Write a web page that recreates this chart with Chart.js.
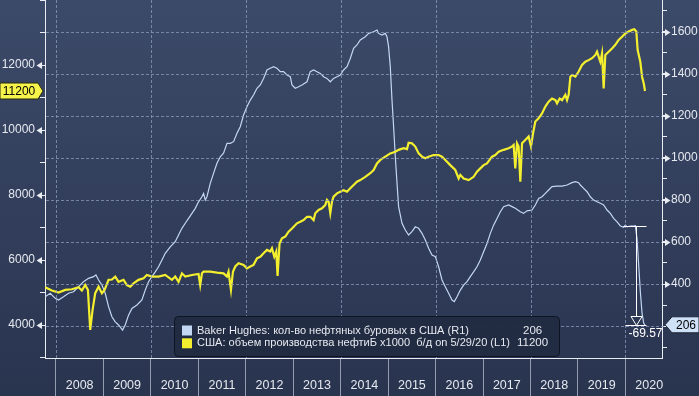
<!DOCTYPE html>
<html><head><meta charset="utf-8">
<script src="https://cdn.jsdelivr.net/npm/chart.js@4.4.1/dist/chart.umd.min.js"></script>
<style>html,body{margin:0;padding:0;background:#2f3b57;}canvas{display:block;}</style>
</head><body>
<canvas id="c" width="699" height="396"></canvas>
<script>
// ---------- DATA ----------
const seriesLabels = ['Baker Hughes: кол-во нефтяных буровых в США (R1)', 'США: объем производства нефтиБ x1000  б/д on 5/29/20 (L1)'];
const lastValueLabels = ['206', '11200'];
const yearLabels = [2008, 2009, 2010, 2011, 2012, 2013, 2014, 2015, 2016, 2017, 2018, 2019, 2020];
const leftTickValues = [4000, 6000, 8000, 10000, 12000];
const leftMinorTicks = [3000, 5000, 7000, 9000, 11000, 13000, 14000];
const rightTickValues = [400, 600, 800, 1000, 1200, 1400, 1600];
const rightMinorTicks = [100, 200, 300, 500, 700, 900, 1100, 1300, 1500, 1700];
const rightGridValues = [200, 400, 600, 800, 1000, 1200, 1400, 1600];
const gridYears = [2008, 2010, 2012, 2014, 2016, 2018, 2020];

// US crude production, thousand b/d (left axis) — date as decimal year
const prodDates = [2007.775,2007.916,2008.055,2008.196,2008.337,2008.477,2008.547,2008.617,2008.674,2008.723,2008.772,2008.828,2008.899,2008.969,2009.025,2009.109,2009.180,2009.250,2009.320,2009.425,2009.496,2009.566,2009.636,2009.740,2009.846,2009.917,2010.023,2010.162,2010.303,2010.445,2010.514,2010.584,2010.655,2010.725,2010.866,2011.005,2011.040,2011.077,2011.111,2011.252,2011.393,2011.532,2011.604,2011.637,2011.688,2011.730,2011.779,2011.848,2011.954,2012.025,2012.095,2012.164,2012.236,2012.306,2012.375,2012.447,2012.516,2012.552,2012.601,2012.643,2012.670,2012.712,2012.763,2012.832,2012.902,2012.974,2013.079,2013.149,2013.218,2013.290,2013.359,2013.429,2013.465,2013.534,2013.606,2013.675,2013.711,2013.745,2013.781,2013.817,2013.850,2013.922,2013.992,2014.061,2014.133,2014.202,2014.272,2014.343,2014.413,2014.518,2014.624,2014.694,2014.765,2014.835,2014.940,2015.045,2015.151,2015.220,2015.326,2015.397,2015.431,2015.502,2015.572,2015.642,2015.713,2015.783,2015.852,2015.958,2016.063,2016.135,2016.204,2016.309,2016.415,2016.485,2016.521,2016.590,2016.696,2016.801,2016.872,2016.942,2017.012,2017.083,2017.189,2017.258,2017.328,2017.433,2017.538,2017.610,2017.644,2017.679,2017.715,2017.749,2017.785,2017.821,2017.890,2017.960,2018.010,2018.053,2018.101,2018.171,2018.242,2018.312,2018.381,2018.453,2018.523,2018.558,2018.613,2018.664,2018.733,2018.769,2018.803,2018.839,2018.875,2018.945,2019.014,2019.085,2019.155,2019.224,2019.296,2019.366,2019.401,2019.435,2019.471,2019.507,2019.541,2019.576,2019.646,2019.717,2019.787,2019.856,2019.928,2019.998,2020.067,2020.139,2020.187,2020.229,2020.257,2020.313,2020.350,2020.385,2020.412];
const prodValues = [5160,5060,5000,5080,5100,5160,5060,5230,5080,3850,4460,4980,5180,4980,5080,5390,5400,5490,5330,5390,5230,5180,5280,5390,5440,5540,5490,5490,5540,5390,5490,5330,5590,5490,5540,5570,5230,5590,5640,5640,5610,5590,5490,5640,5080,5640,5800,5900,5850,5740,5800,5850,6050,6100,6210,6310,6260,6360,6100,6260,5510,6510,6670,6720,6870,6970,7130,7180,7230,7330,7330,7230,7440,7540,7590,7690,7850,7800,7440,7800,7950,8050,8100,8150,8100,8210,8310,8410,8460,8560,8670,8770,8970,9080,9180,9280,9330,9390,9440,9410,9610,9590,9490,9280,9180,9130,9180,9230,9230,9180,9080,8920,8770,8510,8620,8510,8460,8560,8720,8820,8920,8970,9180,9230,9330,9390,9440,9490,9540,8820,9590,9490,8410,9590,9690,9800,9490,9900,10260,10360,10510,10720,10870,10970,10920,10820,10970,10920,11080,10920,11080,11640,11690,11640,11800,12000,12100,12150,12210,12310,12410,12260,12100,12360,11280,12310,12410,12510,12620,12770,12870,12970,13030,13080,13100,13030,12460,12100,11640,11440,11200];

// Baker Hughes US oil rigs (right axis)
const rigDates = [2007.775,2007.880,2007.985,2008.055,2008.160,2008.266,2008.371,2008.477,2008.582,2008.687,2008.792,2008.843,2008.899,2008.969,2009.039,2009.109,2009.180,2009.250,2009.320,2009.404,2009.460,2009.530,2009.602,2009.707,2009.812,2009.882,2009.952,2010.023,2010.093,2010.162,2010.234,2010.303,2010.409,2010.514,2010.584,2010.655,2010.725,2010.795,2010.866,2010.936,2011.005,2011.077,2011.111,2011.147,2011.182,2011.252,2011.321,2011.393,2011.463,2011.532,2011.604,2011.673,2011.743,2011.815,2011.884,2011.954,2012.025,2012.095,2012.164,2012.236,2012.306,2012.375,2012.447,2012.516,2012.586,2012.657,2012.727,2012.797,2012.868,2012.938,2012.974,2013.043,2013.113,2013.184,2013.290,2013.359,2013.429,2013.501,2013.570,2013.640,2013.711,2013.781,2013.850,2013.922,2013.992,2014.061,2014.133,2014.202,2014.272,2014.343,2014.413,2014.518,2014.588,2014.694,2014.765,2014.799,2014.870,2014.940,2014.976,2015.009,2015.045,2015.081,2015.115,2015.151,2015.187,2015.220,2015.292,2015.362,2015.431,2015.502,2015.572,2015.642,2015.713,2015.783,2015.852,2015.924,2015.994,2016.063,2016.135,2016.204,2016.274,2016.346,2016.394,2016.451,2016.521,2016.590,2016.662,2016.731,2016.801,2016.872,2016.942,2017.012,2017.083,2017.153,2017.222,2017.294,2017.364,2017.433,2017.538,2017.610,2017.679,2017.785,2017.854,2017.926,2018.031,2018.101,2018.171,2018.242,2018.312,2018.381,2018.453,2018.558,2018.664,2018.769,2018.875,2018.945,2019.014,2019.050,2019.119,2019.191,2019.260,2019.330,2019.401,2019.471,2019.541,2019.612,2019.682,2019.751,2019.823,2019.893,2019.963,2019.998,2020.034,2020.104,2020.174,2020.210,2020.246,2020.281,2020.316,2020.350,2020.385,2020.412];
const rigCounts = [339,356,332,324,339,356,363,387,411,427,435,443,419,395,356,292,244,220,205,181,205,252,284,300,324,371,411,435,458,482,514,546,577,601,633,665,689,712,736,760,791,815,831,799,815,879,926,974,1005,1022,1069,1069,1077,1117,1148,1204,1243,1275,1299,1331,1347,1378,1418,1426,1434,1426,1410,1410,1394,1386,1347,1331,1338,1347,1362,1410,1418,1410,1402,1386,1378,1362,1378,1386,1394,1418,1434,1473,1521,1537,1561,1576,1592,1600,1608,1592,1584,1592,1576,1529,1434,1275,1148,1005,879,768,689,657,633,649,672,665,641,609,570,538,530,482,419,387,356,324,316,339,371,395,411,435,458,482,514,553,593,641,680,712,744,768,776,768,760,744,736,748,752,776,807,815,831,847,863,866,866,871,882,887,882,871,855,839,815,799,791,784,776,752,736,712,696,676,670,680,672,676,676,677,609,482,356,260,213,206];

// change annotation
const annoDate = 2020.23;
const annoFrom = 677;
const annoTo = 206;
const annoLabel = '-69.57';

// ---------- STYLE ----------
const xMin = 2007.77, xMax = 2020.77;
const rigColor = '#c3d7f3';
const prodColor = '#f3ef2e';
const axisColor = '#e9ecf1';
const textColor = '#e6e9ef';
const gridColor = 'rgba(140,156,190,0.75)';
const sepColor = '#949db0';
const FONT = 'Liberation Sans, Arial, sans-serif';

const bgPlugin = {
  id: 'bg',
  beforeDraw(chart) {
    const {ctx, width, height} = chart;
    const g = ctx.createLinearGradient(0, 0, 0, height);
    g.addColorStop(0, '#3c4a69');
    g.addColorStop(1, '#29344f');
    ctx.save();
    ctx.fillStyle = g;
    ctx.fillRect(0, 0, width, height);
    ctx.restore();
  }
};

const overlayPlugin = {
  id: 'overlay',
  afterDraw(chart) {
    const {ctx, chartArea: ca} = chart;
    const x = chart.scales.x, yL = chart.scales.yL, yR = chart.scales.yR;
    ctx.save();

    // dashed grid, positioned through the chart's own scales
    ctx.fillStyle = gridColor;
    gridYears.forEach(yr => {
      const px = Math.round(x.getPixelForValue(yr));
      for (let y = Math.ceil(ca.top); y < ca.bottom; y += 5) ctx.fillRect(px, y, 1, 3);
    });
    rightGridValues.forEach(v => {
      const py = Math.round(yR.getPixelForValue(v));
      for (let xx = Math.ceil(ca.left) + 1; xx < ca.right; xx += 5) ctx.fillRect(xx, py, 3, 1);
    });

    // axis tick triangles
    ctx.fillStyle = axisColor; ctx.strokeStyle = axisColor; ctx.lineWidth = 1;
    const lx = yL.right;
    leftTickValues.forEach(v => {
      const y = Math.round(yL.getPixelForValue(v)) + 0.5;
      ctx.beginPath(); ctx.moveTo(lx - 8.5, y); ctx.lineTo(lx - 3, y - 3.5); ctx.lineTo(lx - 3, y + 3.5); ctx.closePath(); ctx.fill();
      ctx.beginPath(); ctx.moveTo(lx - 3, y); ctx.lineTo(lx, y); ctx.stroke();
    });
    const rx = yR.left;
    rightTickValues.forEach(v => {
      const y = Math.round(yR.getPixelForValue(v)) + 0.5;
      ctx.beginPath(); ctx.moveTo(rx + 8.5, y); ctx.lineTo(rx + 3, y - 3.5); ctx.lineTo(rx + 3, y + 3.5); ctx.closePath(); ctx.fill();
      ctx.beginPath(); ctx.moveTo(rx, y); ctx.lineTo(rx + 3, y); ctx.stroke();
    });

    // change annotation
    const ax = Math.round(x.getPixelForValue(annoDate)) + 0.5;
    const ay1 = Math.round(yR.getPixelForValue(annoFrom)) + 0.5;
    const ay2 = Math.round(yR.getPixelForValue(annoTo)) + 0.5;
    ctx.strokeStyle = '#ffffff'; ctx.lineWidth = 1;
    ctx.beginPath();
    ctx.moveTo(ax - 13, ay1); ctx.lineTo(ax + 10, ay1);
    ctx.moveTo(ax, ay1); ctx.lineTo(ax, ay2 - 9);
    ctx.moveTo(ax - 11, ay2); ctx.lineTo(ax + 10, ay2);
    ctx.stroke();
    ctx.beginPath();
    ctx.moveTo(ax - 5.5, ay2 - 9); ctx.lineTo(ax + 5.5, ay2 - 9); ctx.lineTo(ax, ay2); ctx.closePath();
    ctx.stroke();
    ctx.fillStyle = '#ffffff';
    ctx.font = '12px ' + FONT;
    ctx.textAlign = 'left'; ctx.textBaseline = 'middle';
    ctx.fillText(annoLabel, ax - 8, ay2 + 8);

    // legend box
    const bx = 174.5, by = 316.5, bw = 385, bh = 40;
    ctx.beginPath();
    ctx.roundRect(bx, by, bw, bh, 4);
    ctx.fillStyle = 'rgba(33,43,66,0.96)';
    ctx.fill();
    ctx.strokeStyle = '#0e1422';
    ctx.stroke();
    const rows = [
      {label: seriesLabels[0], color: rigColor, value: lastValueLabels[0], vx: 523, maxW: 272},
      {label: seriesLabels[1], color: prodColor, value: lastValueLabels[1], vx: 517, maxW: 313}
    ];
    rows.forEach((r, i) => {
      const cy = 330.5 + i * 12.8;
      ctx.fillStyle = r.color;
      ctx.fillRect(182, cy - 5, 10, 10);
      ctx.fillStyle = textColor;
      ctx.font = '11.5px ' + FONT;
      ctx.textAlign = 'left'; ctx.textBaseline = 'middle';
      ctx.fillText(r.label, 197, cy, r.maxW);
      ctx.fillText(r.value, r.vx, cy);
    });

    // last value tag (left, production)
    const ty = yL.getPixelForValue(prodValues[prodValues.length - 1]);
    ctx.beginPath();
    ctx.moveTo(0, ty - 8); ctx.lineTo(38, ty - 8); ctx.lineTo(43, ty); ctx.lineTo(38, ty + 8); ctx.lineTo(0, ty + 8); ctx.closePath();
    ctx.fillStyle = '#f6f34a'; ctx.fill();
    ctx.strokeStyle = '#2a2a10'; ctx.stroke();
    ctx.fillStyle = '#000000'; ctx.font = '12px ' + FONT;
    ctx.textAlign = 'center'; ctx.fillText(lastValueLabels[1], 19, ty + 0.5);

    // last value tag (right, rigs)
    const ry = yR.getPixelForValue(rigCounts[rigCounts.length - 1]);
    ctx.beginPath();
    ctx.moveTo(665, ry); ctx.lineTo(672, ry - 8); ctx.lineTo(699, ry - 8); ctx.lineTo(699, ry + 8); ctx.lineTo(672, ry + 8); ctx.closePath();
    ctx.fillStyle = '#cfe1f6'; ctx.fill();
    ctx.strokeStyle = '#1c2436'; ctx.stroke();
    ctx.fillStyle = '#000000';
    ctx.textAlign = 'left'; ctx.fillText(lastValueLabels[0], 676, ry + 0.5);
    ctx.restore();
  }
};

new Chart(document.getElementById('c'), {
  type: 'line',
  data: {
    datasets: [
      {
        label: seriesLabels[1],
        data: prodDates.map((d, i) => ({x: d, y: prodValues[i]})),
        xAxisID: 'x', yAxisID: 'yL',
        borderColor: prodColor, borderWidth: 2.2,
        pointRadius: 0, tension: 0, order: 0
      },
      {
        label: seriesLabels[0],
        data: rigDates.map((d, i) => ({x: d, y: rigCounts[i]})),
        xAxisID: 'x', yAxisID: 'yR',
        borderColor: rigColor, borderWidth: 1.2,
        pointRadius: 0, tension: 0, order: 1
      }
    ]
  },
  options: {
    responsive: false,
    animation: false,
    devicePixelRatio: 1,
    layout: {padding: 0},
    plugins: {legend: {display: false}, tooltip: {enabled: false}},
    scales: {
      x: {
        type: 'linear', position: 'bottom', min: xMin, max: xMax,
        afterBuildTicks: s => {
          const t = [];
          yearLabels.forEach(y => { t.push({value: y}); t.push({value: y + 0.5}); });
          s.ticks = t;
        },
        afterFit: s => { s.height = 38; s.paddingLeft = 0; s.paddingRight = 0; },
        ticks: {
          autoSkip: false, maxRotation: 0, minRotation: 0, padding: -18,
          color: textColor, font: {family: FONT, size: 12.5},
          callback: v => (v % 1 !== 0) ? String(Math.floor(v)) : ''
        },
        grid: {
          drawOnChartArea: false, drawTicks: true, tickLength: 38, lineWidth: 1,
          tickColor: c => (c.tick && c.tick.value % 1 === 0) ? sepColor : 'transparent'
        },
        border: {display: true, color: axisColor, width: 1}
      },
      yL: {
        type: 'linear', position: 'left', min: 2985, max: 14000,
        afterBuildTicks: s => {
          s.ticks = leftTickValues.concat(leftMinorTicks).sort((a, b) => a - b).map(v => ({value: v}));
        },
        afterFit: s => { s.width = 45; s.paddingTop = 0; s.paddingBottom = 0; },
        ticks: {
          autoSkip: false, padding: 5, color: textColor, font: {family: FONT, size: 12},
          callback: v => leftTickValues.includes(v) ? String(v) : ''
        },
        grid: {drawOnChartArea: false, drawTicks: true, tickLength: 5, tickColor: axisColor},
        border: {display: true, color: axisColor, width: 1}
      },
      yR: {
        type: 'linear', position: 'right', min: 48, max: 1751,
        afterBuildTicks: s => {
          s.ticks = rightTickValues.concat(rightMinorTicks).sort((a, b) => a - b).map(v => ({value: v}));
        },
        afterFit: s => { s.width = 37; s.paddingTop = 0; s.paddingBottom = 0; },
        ticks: {
          autoSkip: false, padding: 4, color: textColor, font: {family: FONT, size: 12},
          callback: v => rightTickValues.includes(v) ? String(v) : ''
        },
        grid: {drawOnChartArea: false, drawTicks: true, tickLength: 5, tickColor: axisColor},
        border: {display: true, color: axisColor, width: 1}
      }
    }
  },
  plugins: [bgPlugin, overlayPlugin]
});
</script>
</body></html>
